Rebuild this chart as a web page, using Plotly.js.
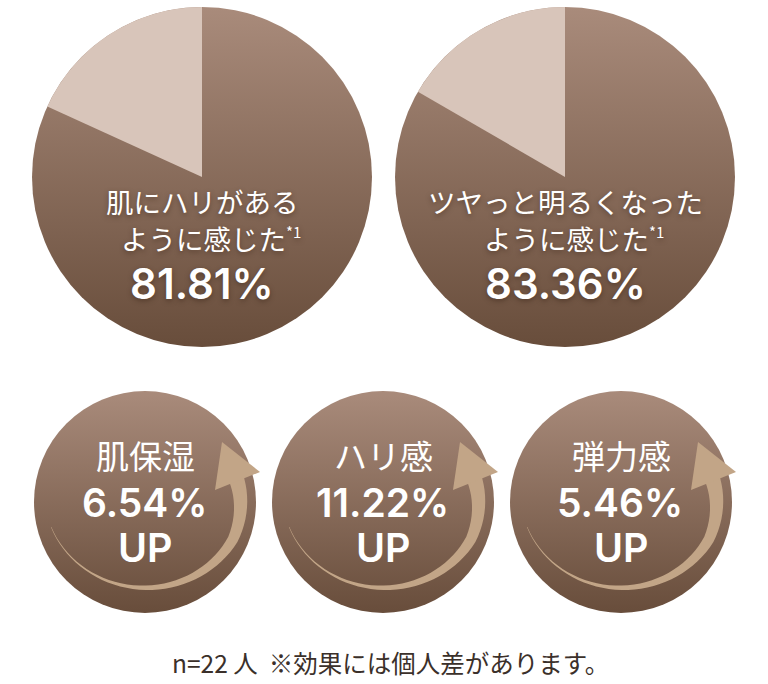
<!DOCTYPE html>
<html>
<head>
<meta charset="utf-8">
<script src="https://cdn.plot.ly/plotly-3.0.1.min.js"></script>
<style>html,body{margin:0;padding:0;background:#fff;}</style>
</head>
<body>
<div id="chart" style="width:768px;height:684px;"></div>
<script>
// survey results (pies) and measured increases (badges)
const pieLine1 = ["肌にハリがある", "ツヤっと明るくなった"];
const pieLine2 = ["ように感じた", "ように感じた"];
const pieNote = "*1";
const pieValues = [81.81, 83.36];
const upLabels = ["肌保湿", "ハリ感", "弾力感"];
const upValues = [6.54, 11.22, 5.46];
const upSuffix = "UP";
const footNote = "n=22\u00a0人\u00a0\u00a0※効果には個人差があります。";

// page geometry, in pixels
const W = 768, H = 684;
const pieCx = [202, 565], pieCy = 177, pieR = 170;
const badgeCx = [145, 383, 621], badgeCy = 502, badgeR = 111;

const px = x => x / W;
const py = y => 1 - y / H;

const jp = "Noto Sans CJK JP, Noto Sans, sans-serif";
const num = "Inter, Open Sans, sans-serif";
const shadow = "0px 2px 5px rgba(60,38,25,0.55)";

// gradient discs go underneath (pie library can't do gradient fills)
let svg = '<svg xmlns="http://www.w3.org/2000/svg" width="' + W + '" height="' + H + '" viewBox="0 0 ' + W + ' ' + H + '">' +
  '<defs><linearGradient id="g" x1="0" y1="0" x2="0" y2="1">' +
  '<stop offset="0" stop-color="#a98b7b"/><stop offset="1" stop-color="#684d3b"/></linearGradient></defs>';
pieCx.forEach(cx => { svg += '<circle cx="' + cx + '" cy="' + pieCy + '" r="' + pieR + '" fill="url(#g)"/>'; });
badgeCx.forEach(cx => { svg += '<circle cx="' + cx + '" cy="' + badgeCy + '" r="' + badgeR + '" fill="url(#g)"/>'; });
svg += '</svg>';

const traces = pieValues.map((v, i) => ({
  type: "pie",
  values: [v, +(100 - v).toFixed(2)],
  labels: ["yes", "no"],
  sort: false,
  direction: "clockwise",
  rotation: 0,
  textinfo: "none",
  hoverinfo: "none",
  showlegend: false,
  marker: { colors: ["rgba(0,0,0,0)", "#d8c5ba"], line: { width: 0 } },
  domain: {
    x: [px(pieCx[i] - pieR), px(pieCx[i] + pieR)],
    y: [py(pieCy + pieR), py(pieCy - pieR)]
  }
}));

// curved arrow round each badge
function toPath(pts) {
  return pts.map((p, k) => (k ? "L" : "M") + px(p[0]).toFixed(5) + "," + py(p[1]).toFixed(5)).join(" ") + " Z";
}
function arrowShapes(cx, cy) {
  const outer = [], inner = [];
  const N = 48;
  for (let i = 0; i <= N; i++) {
    const t = i / N;
    const a = (159 - 171 * t) * Math.PI / 180;
    const s = t < 0.75 ? 1 : 1 - 0.07 * (t - 0.75) / 0.25;
    const ox = cx + 3 + 104 * s * Math.cos(a);
    const oy = cy - 10 + 98 * s * Math.sin(a);
    const w = 0.5 + 15.5 * Math.pow(t, 1.5);
    outer.push([ox, oy]);
    inner.push([ox - w * Math.cos(a), oy - w * Math.sin(a)]);
  }
  const body = outer.concat(inner.reverse());
  const head = [[cx + 77, cy - 60], [cx + 115, cy - 30], [cx + 70, cy - 12]];
  const base = { type: "path", xref: "paper", yref: "paper", fillcolor: "#c2a587", line: { width: 0 }, layer: "above" };
  return [Object.assign({ path: toPath(body) }, base), Object.assign({ path: toPath(head) }, base)];
}
let shapes = [];
badgeCx.forEach(cx => { shapes = shapes.concat(arrowShapes(cx, badgeCy)); });

const annotations = [];
function addText(x, y, text, size, family, opts) {
  annotations.push(Object.assign({
    xref: "paper", yref: "paper", x: px(x), y: py(y), text: text, showarrow: false,
    xanchor: "center", yanchor: "middle",
    font: Object.assign({ size: size, family: family, color: "#ffffff" }, (opts && opts.font) || {})
  }, (opts && opts.ann) || {}));
}

pieValues.forEach((v, i) => {
  const cx = pieCx[i];
  addText(cx, 201, pieLine1[i], 27.5, jp, { font: { shadow: shadow } });
  addText(cx + 1, 238, pieLine2[i], 27.5, jp, { font: { shadow: shadow } });
  addText(cx + 82, 231, pieNote, 15, jp, { font: { shadow: shadow }, ann: { xanchor: "left" } });
  addText(cx, 283, v.toFixed(2) + "%", 42, num, { font: { weight: 600, shadow: shadow } });
});

upValues.forEach((v, i) => {
  const cx = badgeCx[i];
  addText(cx, 455, upLabels[i], 33, jp);
  addText(cx - 1, 502, v.toFixed(2) + "%", 39, num, { font: { weight: 600 }, ann: { height: 40 } });
  addText(cx, 548, upSuffix, 39.5, num, { font: { weight: 600 }, ann: { height: 40 } });
});

addText(390, 662, footNote, 24.5, jp, { font: { color: "#3b302a" } });

const layout = {
  width: W,
  height: H,
  margin: { l: 0, r: 0, t: 0, b: 0, pad: 0 },
  paper_bgcolor: "#ffffff",
  plot_bgcolor: "#ffffff",
  showlegend: false,
  images: [{
    source: "data:image/svg+xml;charset=utf-8," + encodeURIComponent(svg),
    xref: "paper", yref: "paper", x: 0, y: 1, sizex: 1, sizey: 1,
    xanchor: "left", yanchor: "top", sizing: "stretch", layer: "below"
  }],
  shapes: shapes,
  annotations: annotations
};

Plotly.newPlot("chart", traces, layout, { staticPlot: true, displayModeBar: false });
</script>
</body>
</html>
